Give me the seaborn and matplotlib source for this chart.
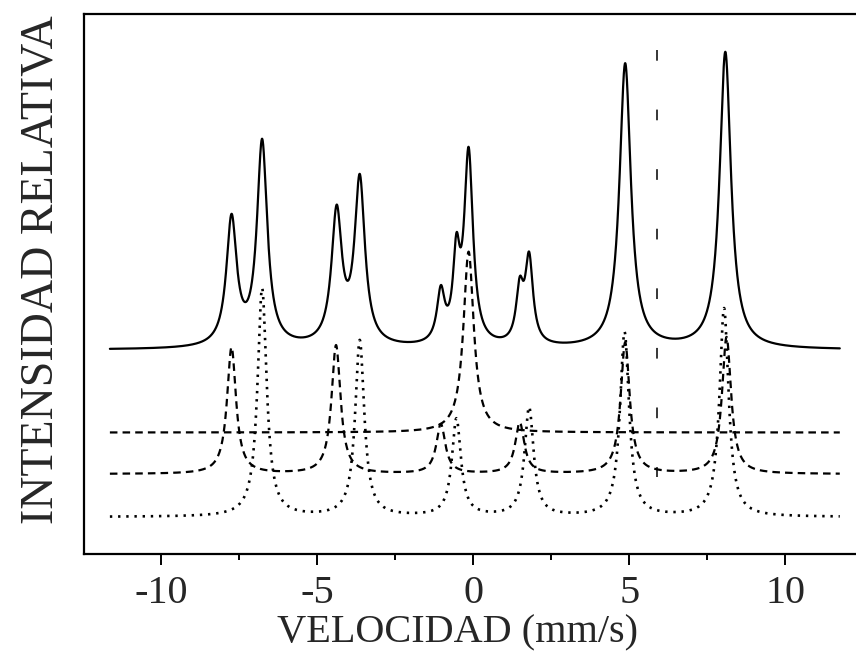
import numpy as np
import pandas as pd
import matplotlib
matplotlib.use("Agg")
import matplotlib.pyplot as plt
from matplotlib.ticker import MultipleLocator
import seaborn as sns

# ---------------- data ----------------
# velocity range covered by the curves (mm/s)
v_start, v_end = -11.65, 11.75

# total (solid) spectrum: baseline, line positions, observed heights above baseline, widths
total_baseline = 37.8
total_pos = [-7.75, -6.77, -4.38, -3.64, -1.04, -0.54, -0.15, 1.49, 1.79, 4.87, 8.08]
total_hgt = [25.2, 39.1, 26.9, 32.6, 12.0, 21.7, 37.6, 13.6, 18.2, 53.1, 55.2]
total_fwhm = [0.40, 0.40, 0.40, 0.40, 0.30, 0.26, 0.34, 0.28, 0.30, 0.44, 0.44]

# component 1: singlet (upper dashed)
singlet_baseline = 22.5
singlet_pos = [-0.15]
singlet_hgt = [33.5]
singlet_fwhm = [0.40]

# component 2: sextet (lower dashed)
sextA_baseline = 14.8
sextA_pos = [-7.75, -4.40, -1.04, 1.49, 4.87, 8.12]
sextA_hgt = [23.5, 23.9, 9.3, 9.6, 24.4, 25.4]
sextA_fwhm = [0.35] * 6

# component 3: sextet (dotted)
sextB_baseline = 6.85
sextB_pos = [-6.77, -3.64, -0.54, 1.79, 4.85, 8.04]
sextB_hgt = [42.4, 32.8, 18.3, 20.4, 34.3, 38.7]
sextB_fwhm = [0.35] * 6

# vertical marker line (drawn from top down)
marker_velocity = 5.88
marker_top, marker_bottom = 93.3, 14.3

x_ticks = [-10, -5, 0, 5, 10]
x_label = "VELOCIDAD (mm/s)"
y_label = "INTENSIDAD RELATIVA"


# ---------------- Lorentzian line profiles ----------------
def lor(x, x0, g):
    return 1.0 / (1.0 + (2.0 * (x - x0) / g) ** 2)


def spectrum(v, base, pos, hgt, widths):
    pos = np.asarray(pos, float)
    hgt = np.asarray(hgt, float)
    g = np.asarray(widths, float)
    M = lor(pos[:, None], pos[None, :], g[None, :])
    amp = np.clip(np.linalg.solve(M, hgt), 0, None)
    y = np.full_like(v, base)
    for p, a, w in zip(pos, amp, g):
        y += a * lor(v, p, w)
    return y


v = np.linspace(v_start, v_end, 5000)
df = pd.DataFrame({
    "v": v,
    "total": spectrum(v, total_baseline, total_pos, total_hgt, total_fwhm),
    "singlet": spectrum(v, singlet_baseline, singlet_pos, singlet_hgt, singlet_fwhm),
    "sextA": spectrum(v, sextA_baseline, sextA_pos, sextA_hgt, sextA_fwhm),
    "sextB": spectrum(v, sextB_baseline, sextB_pos, sextB_hgt, sextB_fwhm),
})

# ---------------- plotting ----------------
sns.set_theme(style="white")
plt.rcParams["font.family"] = ["Liberation Serif", "DejaVu Serif"]
plt.rcParams["axes.unicode_minus"] = False

fig = plt.figure(figsize=(8.56, 6.59), dpi=100)
ax = fig.add_axes([84 / 856, 105 / 659, 1 - 84 / 856, 540 / 659])

sns.lineplot(data=df, x="v", y="total", ax=ax, color="black", linewidth=1.6,
             estimator=None, sort=False)
sns.lineplot(data=df, x="v", y="singlet", ax=ax, color="black", linewidth=1.6,
             estimator=None, sort=False, linestyle=(0, (3.4, 2.3)))
sns.lineplot(data=df, x="v", y="sextA", ax=ax, color="black", linewidth=1.6,
             estimator=None, sort=False, linestyle=(0, (3.4, 2.3)))
sns.lineplot(data=df, x="v", y="sextB", ax=ax, color="black", linewidth=1.9,
             estimator=None, sort=False, linestyle=(0, (0.9, 2.2)))
ax.vlines(marker_velocity, marker_top, marker_bottom, colors="black",
          linewidth=1.1, linestyles=[(0, (7, 32))])

ax.set_xlim(-12.48, 12.27)
ax.set_ylim(0, 100)

for side in ["top", "bottom", "left"]:
    ax.spines[side].set_visible(True)
    ax.spines[side].set_color("black")
    ax.spines[side].set_linewidth(1.6)
ax.spines["right"].set_visible(False)

ax.set_xticks(x_ticks)
ax.set_xticklabels([str(t) for t in x_ticks])
ax.xaxis.set_minor_locator(MultipleLocator(2.5))
ax.set_yticks([])
ax.tick_params(axis="x", which="major", direction="out", length=8, width=1.4,
               labelsize=29, pad=7, color="black", bottom=True)
ax.tick_params(axis="x", which="minor", direction="out", length=4.5, width=1.4,
               color="black", bottom=True)

ax.set_xlabel(x_label, fontsize=29)
ax.xaxis.set_label_coords(0.484, -0.112)
ax.set_ylabel(y_label, fontsize=33)
ax.yaxis.set_label_coords(-0.028, 0.526)

fig.savefig("out.png", dpi=100)
